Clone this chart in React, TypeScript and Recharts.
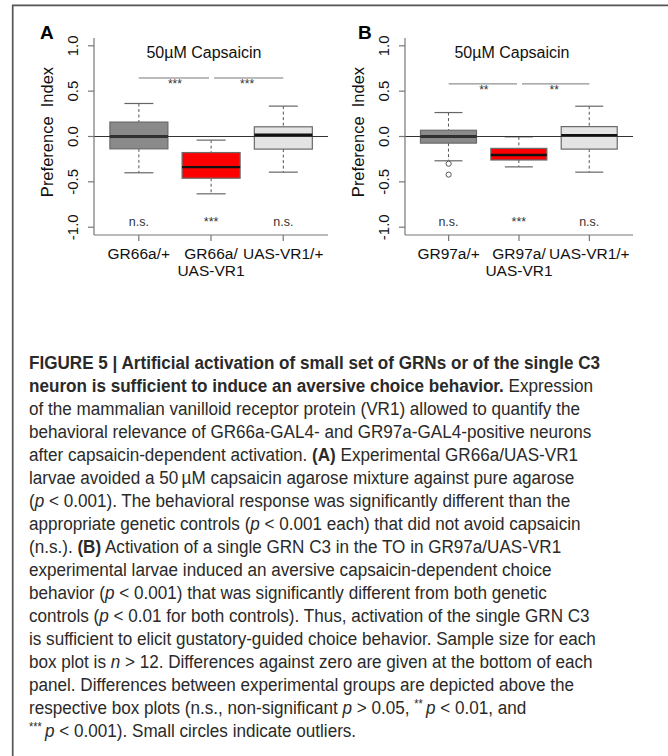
import React from 'react';
import { ComposedChart, Bar, XAxis, YAxis, ReferenceLine, Line } from 'recharts';

// ---------- Panel A data ----------
const categoriesA = ['GR66a/+', 'GR66a/UAS-VR1', 'UAS-VR1/+'];
const tickLinesA = [['GR66a/+'], ['GR66a/', 'UAS-VR1'], ['UAS-VR1/+']];
const minA = [-0.4, -0.632, -0.393];
const q1A = [-0.136, -0.46, -0.139];
const medA = [0.0, -0.338, 0.019];
const q3A = [0.159, -0.177, 0.107];
const maxA = [0.364, -0.04, 0.335];
const outliersA: number[][] = [[], [], []];
const zeroSigA = ['n.s.', '***', 'n.s.'];
const pairSigA = ['***', '***'];
const pairLevelA = 0.645;

// ---------- Panel B data ----------
const categoriesB = ['GR97a/+', 'GR97a/UAS-VR1', 'UAS-VR1/+'];
const tickLinesB = [['GR97a/+'], ['GR97a/', 'UAS-VR1'], ['UAS-VR1/+']];
const minB = [-0.268, -0.335, -0.393];
const q1B = [-0.073, -0.259, -0.139];
const medB = [0.0, -0.204, 0.015];
const q3B = [0.069, -0.131, 0.109];
const maxB = [0.264, -0.004, 0.334];
const outliersB: number[][] = [[-0.3, -0.42], [], []];
const zeroSigB = ['n.s.', '***', 'n.s.'];
const pairSigB = ['**', '**'];
const pairLevelB = 0.58;

// ---------- shared ----------
const boxColors = ['#8a8a8a', '#ff0000', '#e4e4e4'];
const yTicks = [-1, -0.5, 0, 0.5, 1];
const yDomain = [-1.086, 1.086];
const zeroLabelLevel = -0.94;
const titleLevel = 0.869;
const chartTitle = '50\u00b5M Capsaicin';
const yLabel = 'Preference  Index';

const FONT = 'Arial, "Liberation Sans", Helvetica, sans-serif';
const GRID = '#777';

function buildRows(cats: string[], mn: number[], q1: number[], md: number[], q3: number[], mx: number[], out: number[][], sig: string[]) {
  return cats.map((name, i) => ({
    name,
    idx: i,
    range: [mn[i], mx[i]],
    min: mn[i],
    q1: q1[i],
    med: md[i],
    q3: q3[i],
    max: mx[i],
    color: boxColors[i],
    sig: sig[i],
    out1: out[i][0] ?? null,
    out2: out[i][1] ?? null,
  }));
}

const rowsA = buildRows(categoriesA, minA, q1A, medA, q3A, maxA, outliersA, zeroSigA);
const rowsB = buildRows(categoriesB, minB, q1B, medB, q3B, maxB, outliersB, zeroSigB);

const BoxShape = (props: any) => {
  const { x, y, width, height, payload } = props;
  if (payload == null || x == null) return null;
  const top = Math.min(y, y + height);
  const h = Math.abs(height);
  const span = payload.max - payload.min;
  const py = (v: number) => top + ((payload.max - v) / span) * h;
  const cx = x + width / 2;
  const capHalf = width / 4;
  return (
    <g>
      <line x1={cx} x2={cx} y1={py(payload.max)} y2={py(payload.q3)} stroke="#555" strokeWidth={1} strokeDasharray="3 2.5" />
      <line x1={cx} x2={cx} y1={py(payload.q1)} y2={py(payload.min)} stroke="#555" strokeWidth={1} strokeDasharray="3 2.5" />
      <line x1={cx - capHalf} x2={cx + capHalf} y1={py(payload.max)} y2={py(payload.max)} stroke="#666" strokeWidth={1.2} />
      <line x1={cx - capHalf} x2={cx + capHalf} y1={py(payload.min)} y2={py(payload.min)} stroke="#666" strokeWidth={1.2} />
      <rect x={x} y={py(payload.q3)} width={width} height={py(payload.q1) - py(payload.q3)} fill={payload.color} stroke="#6a6a6a" strokeWidth={1.2} />
      <line x1={x} x2={x + width} y1={py(payload.med)} y2={py(payload.med)} stroke="#111" strokeWidth={2.4} />
      <text x={cx} y={py(zeroLabelLevel)} dy={4} textAnchor="middle" fontFamily={FONT} fontSize={12.5} fill="#333">
        {payload.sig}
      </text>
    </g>
  );
};

const makeXTick = (lines: string[][]) => (props: any) => {
  const { x, y, index } = props;
  const ls = lines[index] || [];
  return (
    <text x={x} y={y} textAnchor="middle" fontFamily={FONT} fontSize={15.5} fill="#111">
      {ls.map((l, i) => (
        <tspan key={i} x={x} dy={i === 0 ? 16 : 17}>
          {l}
        </tspan>
      ))}
    </text>
  );
};

const YTick = (props: any) => {
  const { x, y, payload } = props;
  const bx = x - 8;
  return (
    <text x={bx} y={y} transform={`rotate(-90 ${bx} ${y})`} textAnchor="middle" fontFamily={FONT} fontSize={15} fill="#111">
      {Number(payload.value).toFixed(1)}
    </text>
  );
};

const YLabel = (props: any) => {
  const vb = props.viewBox || {};
  const bx = vb.x + vb.width - 41;
  const cy = vb.y + vb.height / 2 - 4.5;
  return (
    <text x={bx} y={cy} transform={`rotate(-90 ${bx} ${cy})`} textAnchor="middle" fontFamily={FONT} fontSize={16.5} fill="#111" style={{ whiteSpace: 'pre' }}>
      {yLabel}
    </text>
  );
};

const pairShape = (label: string, insetLeft: number, insetRight: number) => (p: any) => {
  const lo = Math.min(p.x1, p.x2);
  const hi = Math.max(p.x1, p.x2);
  return (
    <g>
      <line x1={lo + insetLeft} x2={hi - insetRight} y1={p.y1} y2={p.y2} stroke="#777" strokeWidth={1} />
      <text x={(lo + hi) / 2} y={p.y1 + 10} textAnchor="middle" fontFamily={FONT} fontSize={12} fill="#333">
        {label}
      </text>
    </g>
  );
};

const titleShape = (p: any) => (
  <text x={(p.x1 + p.x2) / 2 - 7} y={p.y1} textAnchor="middle" fontFamily={FONT} fontSize={16} fill="#111">
    {chartTitle}
  </text>
);

type PanelProps = {
  rows: any[];
  cats: string[];
  tickLines: string[][];
  pairSig: string[];
  pairLevel: number;
  width: number;
  height: number;
  margin: { top: number; right: number; bottom: number; left: number };
  plotWidth: number;
};

const Panel = ({ rows, cats, tickLines, pairSig, pairLevel, width, height, margin, plotWidth }: PanelProps) => {
  const pad = (plotWidth * 0.12) / 3.24;
  return (
    <ComposedChart width={width} height={height} data={rows} margin={margin} barCategoryGap="10%">
      <XAxis
        xAxisId="bottom"
        dataKey="name"
        type="category"
        padding={{ left: pad, right: pad }}
        height={55}
        tickSize={6}
        tickMargin={2}
        interval={0}
        axisLine={{ stroke: GRID, strokeWidth: 1.2 }}
        tickLine={{ stroke: GRID, strokeWidth: 1.2 }}
        tick={makeXTick(tickLines)}
      />
      <XAxis
        xAxisId="top"
        orientation="top"
        dataKey="name"
        type="category"
        padding={{ left: pad, right: pad }}
        height={0}
        tick={false}
        tickLine={false}
        axisLine={{ stroke: GRID, strokeWidth: 1.2 }}
      />
      <YAxis
        yAxisId="left"
        type="number"
        domain={yDomain}
        ticks={yTicks}
        allowDataOverflow
        width={60}
        tickSize={6}
        tickMargin={2}
        axisLine={{ stroke: GRID, strokeWidth: 1.2 }}
        tickLine={{ stroke: GRID, strokeWidth: 1.2 }}
        tick={YTick}
        label={{ value: yLabel, content: YLabel }}
      />
      <YAxis
        yAxisId="right"
        orientation="right"
        type="number"
        domain={yDomain}
        allowDataOverflow
        width={0}
        tick={false}
        tickLine={false}
        axisLine={{ stroke: GRID, strokeWidth: 1.2 }}
      />
      <Bar xAxisId="bottom" yAxisId="left" dataKey="range" shape={BoxShape} isAnimationActive={false} />
      <Line xAxisId="bottom" yAxisId="left" dataKey="out1" stroke="none" dot={{ r: 2.6, fill: '#fff', stroke: '#555', strokeWidth: 1 }} isAnimationActive={false} connectNulls={false} />
      <Line xAxisId="bottom" yAxisId="left" dataKey="out2" stroke="none" dot={{ r: 2.6, fill: '#fff', stroke: '#555', strokeWidth: 1 }} isAnimationActive={false} connectNulls={false} />
      <ReferenceLine xAxisId="bottom" yAxisId="left" y={0} stroke="#333" strokeWidth={1.2} />
      <ReferenceLine
        xAxisId="bottom"
        yAxisId="left"
        segment={[{ x: cats[0], y: pairLevel }, { x: cats[1], y: pairLevel }]}
        shape={pairShape(pairSig[0], 0, 2)}
      />
      <ReferenceLine
        xAxisId="bottom"
        yAxisId="left"
        segment={[{ x: cats[1], y: pairLevel }, { x: cats[2], y: pairLevel }]}
        shape={pairShape(pairSig[1], 3, 0)}
      />
      <ReferenceLine xAxisId="bottom" yAxisId="left" y={titleLevel} shape={titleShape} />
    </ComposedChart>
  );
};

const CAP_FONT = '"Liberation Sans", Arial, Helvetica, sans-serif';

const B = ({ children }: any) => <tspan fontWeight="bold">{children}</tspan>;
const I = ({ children }: any) => <tspan fontStyle="italic">{children}</tspan>;
const Sup = ({ children }: any) => (
  <>
    <tspan fontSize={12} dy={-6}>{children}</tspan>
    <tspan dy={6}>{'\u2009'}</tspan>
  </>
);

const captionLines: React.ReactNode[] = [
  <B>FIGURE 5 | Artificial activation of small set of GRNs or of the single C3</B>,
  <>
    <B>neuron is sufficient to induce an aversive choice behavior.</B> Expression
  </>,
  <>of the mammalian vanilloid receptor protein (VR1) allowed to quantify the</>,
  <>behavioral relevance of GR66a-GAL4- and GR97a-GAL4-positive neurons</>,
  <>
    after capsaicin-dependent activation. <B>(A)</B> Experimental GR66a/UAS-VR1
  </>,
  <>larvae avoided a 50{'\u2009'}µM capsaicin agarose mixture against pure agarose</>,
  <>
    (<I>p</I> {'<'} 0.001). The behavioral response was significantly different than the
  </>,
  <>
    appropriate genetic controls (<I>p</I> {'<'} 0.001 each) that did not avoid capsaicin
  </>,
  <>
    (n.s.). <B>(B)</B> Activation of a single GRN C3 in the TO in GR97a/UAS-VR1
  </>,
  <>experimental larvae induced an aversive capsaicin-dependent choice</>,
  <>
    behavior (<I>p</I> {'<'} 0.001) that was significantly different from both genetic
  </>,
  <>
    controls (<I>p</I> {'<'} 0.01 for both controls). Thus, activation of the single GRN C3
  </>,
  <>is sufficient to elicit gustatory-guided choice behavior. Sample size for each</>,
  <>
    box plot is <I>n</I> {'>'} 12. Differences against zero are given at the bottom of each
  </>,
  <>panel. Differences between experimental groups are depicted above the</>,
  <>
    respective box plots (n.s., non-significant <I>p</I> {'>'} 0.05, <Sup>**</Sup>
    <I>p</I> {'<'} 0.01, and
  </>,
  <>
    <Sup>***</Sup>
    <I>p</I> {'<'} 0.001). Small circles indicate outliers.
  </>,
];

const capLeft = 29;
const capFirstBaseline = 369;
const capLineStep = 23;
const capScaleX = 0.9;

export default function App() {
  return (
    <div style={{ position: 'absolute', left: 0, top: 0, width: 668, height: 756, background: '#fff', overflow: 'hidden' }}>
      <svg width={668} height={756} style={{ position: 'absolute', left: 0, top: 0 }}>
        <line x1={12.7} x2={12.7} y1={5.3} y2={756} stroke="#555" strokeWidth={1.7} />
        <line x1={12} x2={668} y1={5.3} y2={5.3} stroke="#555" strokeWidth={1.7} />
        <text x={40} y={39} fontFamily={FONT} fontWeight="bold" fontSize={19} fill="#000">A</text>
        <text x={358} y={39} fontFamily={FONT} fontWeight="bold" fontSize={19} fill="#000">B</text>
        <g transform={`translate(${capLeft} 0) scale(${capScaleX} 1)`} fontFamily={CAP_FONT} fontSize={19} fill="#2a2a2a">
          {captionLines.map((ln, i) => (
            <text key={i} x={0} y={capFirstBaseline + i * capLineStep} style={{ whiteSpace: 'pre' }}>
              {ln}
            </text>
          ))}
        </g>
      </svg>
      <div style={{ position: 'absolute', left: 0, top: 0 }}>
        <Panel
          rows={rowsA}
          cats={categoriesA}
          tickLines={tickLinesA}
          pairSig={pairSigA}
          pairLevel={pairLevelA}
          width={335}
          height={290}
          margin={{ top: 38, right: 7, bottom: 0, left: 34 }}
          plotWidth={234}
        />
      </div>
      <div style={{ position: 'absolute', left: 335, top: 0 }}>
        <Panel
          rows={rowsB}
          cats={categoriesB}
          tickLines={tickLinesB}
          pairSig={pairSigB}
          pairLevel={pairLevelB}
          width={333}
          height={290}
          margin={{ top: 38, right: 35, bottom: 0, left: 10 }}
          plotWidth={228}
        />
      </div>
    </div>
  );
}
